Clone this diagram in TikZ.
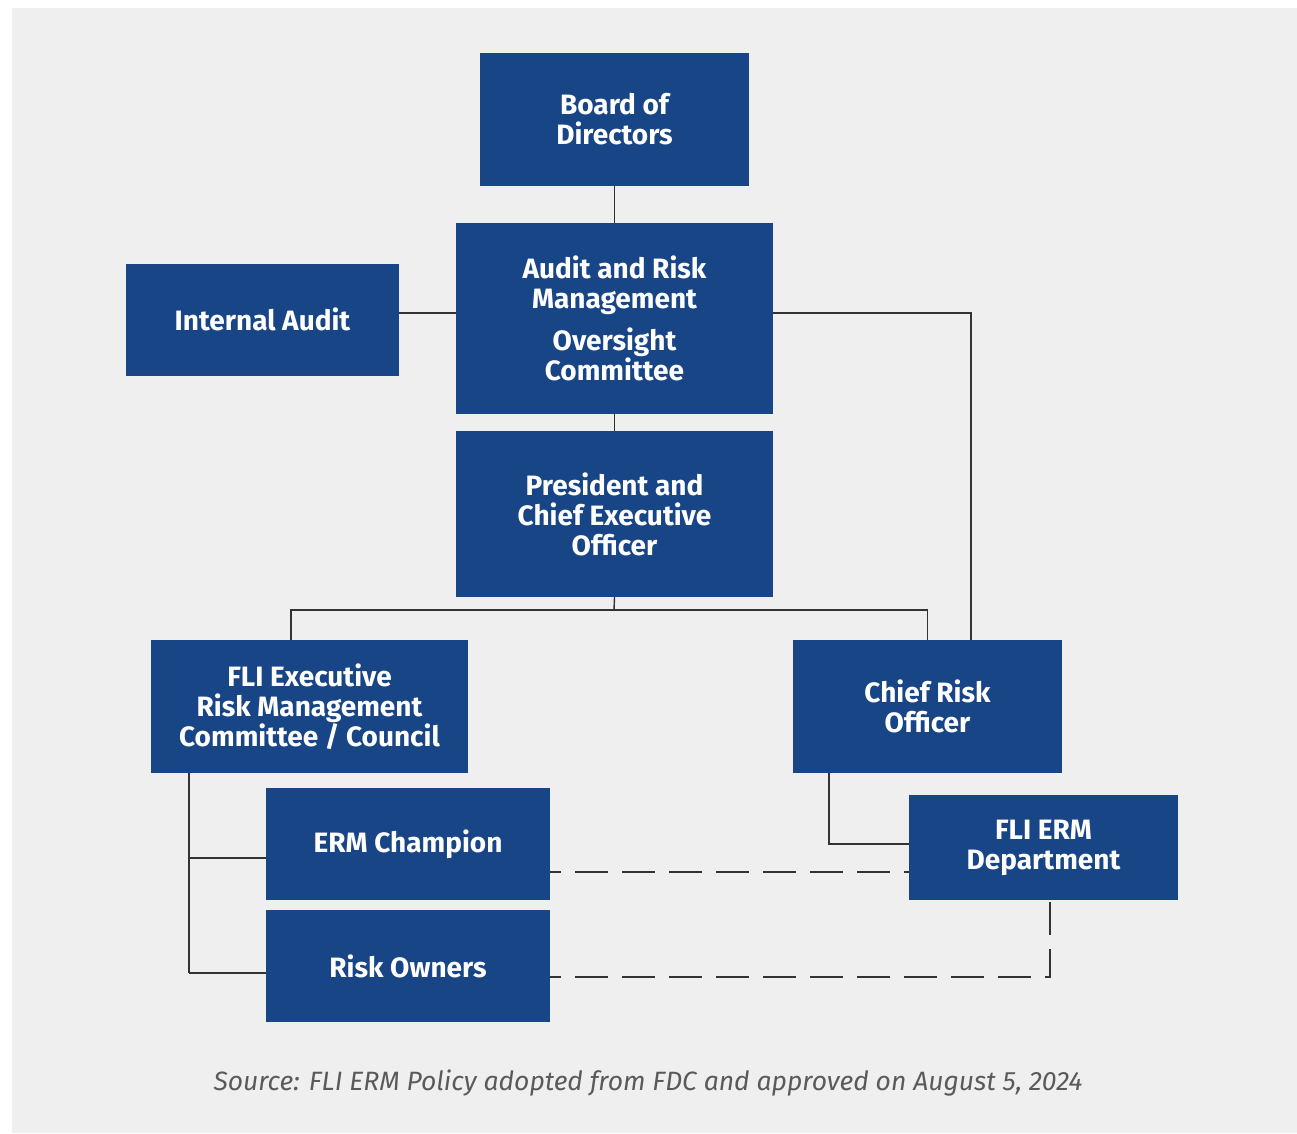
\documentclass[tikz,border=0pt]{standalone}
\usepackage{fontspec}
\setmainfont{Fira Sans}
\definecolor{boxblue}{HTML}{184586}
\definecolor{bggray}{HTML}{EFEFEF}
\definecolor{linegray}{HTML}{333333}
\definecolor{srcgray}{HTML}{5A5A5A}
\begin{document}
\begin{tikzpicture}[x=1pt,y=-1pt,
  orgbox/.style={fill=boxblue,draw=none,text=white,font=\fontsize{28}{30}\selectfont\bfseries,align=center,inner sep=0pt},
  conn/.style={draw=linegray,line width=1.4pt},
  dashconn/.style={draw=linegray,line width=1.4pt,dash pattern=on 33pt off 14pt,dash phase=22pt}]
\useasboundingbox (0,0) rectangle (1297,1133);
\fill[bggray] (12,8) rectangle (1297,1133);
% boxes
\node[orgbox,minimum width=269pt,minimum height=133pt] (board) at (614.5,119.5) {Board of\\Directors};
\node[orgbox,minimum width=317pt,minimum height=191pt] (arm) at (614.5,318.5) {Audit and Risk\\Management\\[12pt]Oversight\\Committee};
\node[orgbox,minimum width=273pt,minimum height=112pt] (ia) at (262.5,319.5) {Internal Audit};
\node[orgbox,minimum width=317pt,minimum height=166pt] (pres) at (614.5,514) {President and\\Chief Executive\\Officer};
\node[orgbox,minimum width=317pt,minimum height=133pt] (exec) at (309.5,706.5) {FLI Executive\\Risk Management\\Committee / Council};
\node[orgbox,minimum width=269pt,minimum height=133pt] (cro) at (927.5,706.5) {Chief Risk\\Officer};
\node[orgbox,minimum width=284pt,minimum height=112pt] (champ) at (408,844) {ERM Champion};
\node[orgbox,minimum width=284pt,minimum height=112pt] (owners) at (408,966) {Risk Owners};
\node[orgbox,minimum width=269pt,minimum height=105pt] (dept) at (1043.5,847.5) {FLI ERM\\Department};
% solid connectors
\draw[conn] (board.south) -- (arm.north);
\draw[conn] (ia.east |- 0,313) -- (arm.west |- 0,313);
\draw[conn] (arm.east |- 0,313) -| (cro.north -| 971,0);
\draw[conn] (arm.south) -- (pres.north);
\coordinate (split) at (614,610);
\draw[conn] (pres.south) -- (split);
\draw[conn] (exec.north -| 291,0) |- (split) -| (cro.north);
\coordinate (execdown) at (189,973);
\draw[conn] (exec.south -| 189,0) -- (execdown);
\draw[conn] (189,858) -- (champ.west |- 0,858);
\draw[conn] (execdown) -- (owners.west |- execdown);
\draw[conn] (cro.south -| 829,0) |- (dept.west |- 0,844);
% dashed connectors
\draw[dashconn] (champ.east |- 0,872) -- (dept.west |- 0,872);
\draw[dashconn] (owners.east |- 0,977) -| (dept.south -| 1050,0);
% source
\node[font=\fontsize{26.5}{30}\selectfont\itshape,text=srcgray,anchor=center,inner sep=0pt] (src) at (648,1083) {Source: FLI ERM Policy adopted from FDC and approved on August 5, 2024};
\end{tikzpicture}
\end{document}
